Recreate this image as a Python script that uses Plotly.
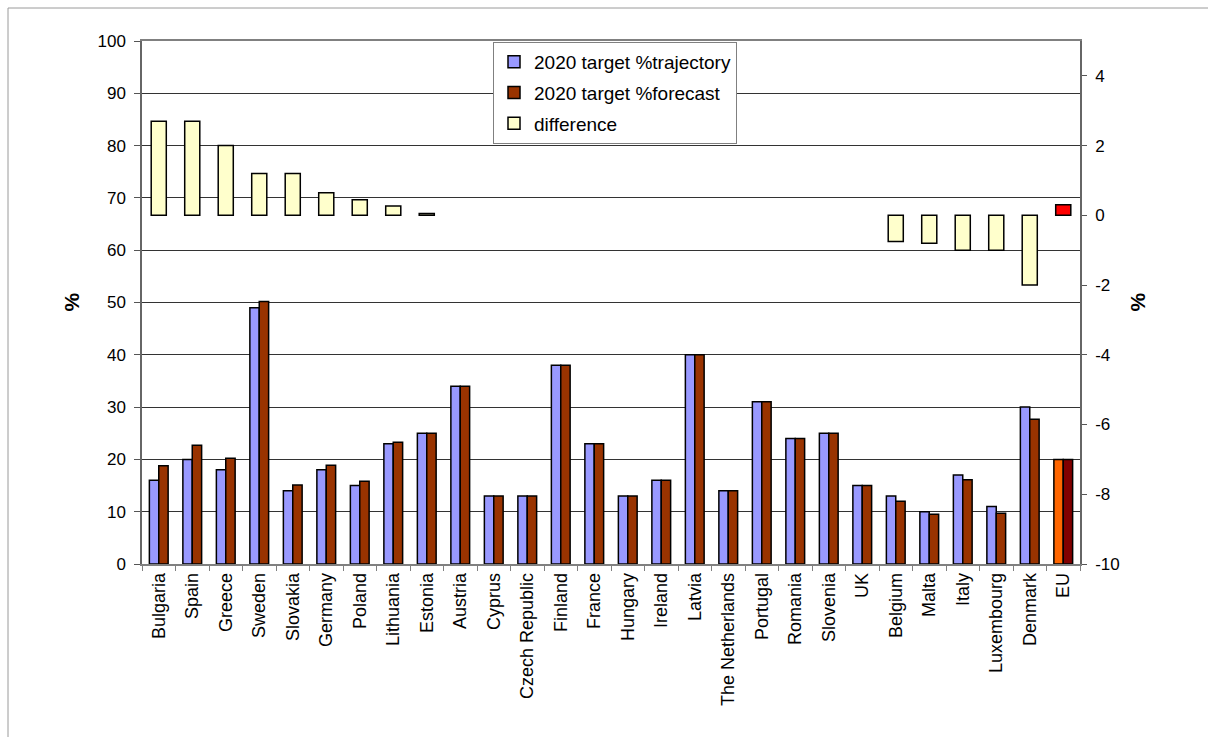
import plotly.graph_objects as go

# Member states (plus EU total) in display order
countries = [
    "Bulgaria", "Spain", "Greece", "Sweden", "Slovakia", "Germany", "Poland",
    "Lithuania", "Estonia", "Austria", "Cyprus", "Czech Republic", "Finland",
    "France", "Hungary", "Ireland", "Latvia", "The Netherlands", "Portugal",
    "Romania", "Slovenia", "UK", "Belgium", "Malta", "Italy", "Luxembourg",
    "Denmark", "EU",
]

# Renewable share targets for 2020 (%), left axis
trajectory = [16, 20, 18, 49, 14, 18, 15, 23, 25, 34, 13, 13, 38, 23, 13, 16,
              40, 14, 31, 24, 25, 15, 13, 10, 17, 11, 30, 20]
forecast = [18.8, 22.7, 20.2, 50.2, 15.1, 18.9, 15.8, 23.3, 25, 34, 13, 13, 38,
            23, 13, 16, 40, 14, 31, 24, 25, 15, 12.0, 9.5, 16.1, 9.7, 27.7, 20]

# Forecast minus trajectory (percentage points), right axis
difference = [2.7, 2.7, 2.0, 1.2, 1.2, 0.65, 0.45, 0.27, 0.05, None, None, None,
              None, None, None, None, None, None, None, None, None, None,
              -0.75, -0.8, -1.0, -1.0, -2.0, 0.3]

# Axis ticks
left_ticks = [0, 10, 20, 30, 40, 50, 60, 70, 80, 90, 100]
right_ticks = [-10, -8, -6, -4, -2, 0, 2, 4]
right_ticktext = ["-10", "-8", "-6", "-4", "-2", "0", "2", "4"]

TRAJ_COLOR = "#9999FF"
FORE_COLOR = "#993300"
DIFF_COLOR = "#FFFFCC"
EU_TRAJ = "#FF6600"
EU_FORE = "#800000"
EU_DIFF = "#FF0000"

n = len(countries)
traj_colors = [TRAJ_COLOR] * (n - 1) + [EU_TRAJ]
fore_colors = [FORE_COLOR] * (n - 1) + [EU_FORE]
diff_colors = [DIFF_COLOR] * (n - 1) + [EU_DIFF]

FONT = "Liberation Sans, Arial, sans-serif"
outline = dict(color="black", width=1.5)

fig = go.Figure()
fig.add_trace(go.Bar(
    x=countries, y=trajectory, name="2020 target %trajectory",
    marker=dict(color=traj_colors, line=outline),
    width=0.28, offset=-0.28, legendgroup="a", yaxis="y",
))
fig.add_trace(go.Bar(
    x=countries, y=forecast, name="2020 target %forecast",
    marker=dict(color=fore_colors, line=outline),
    width=0.28, offset=0.0, legendgroup="b", yaxis="y",
))
fig.add_trace(go.Bar(
    x=countries, y=difference, name="difference",
    marker=dict(color=diff_colors, line=outline),
    width=0.45, offset=-0.225, legendgroup="c", yaxis="y2",
))

W, H = 1208, 737
L, R, T, B = 142, 128, 41, 173
pw, ph = W - L - R, H - T - B

def px_x(p):
    return (p - L) / pw

def px_y(p):
    return 1 - (p - T) / ph

fig.update_layout(
    width=W, height=H,
    margin=dict(l=L, r=R, t=T, b=B, pad=0),
    paper_bgcolor="white", plot_bgcolor="white",
    font=dict(family=FONT, color="black", size=17),
    barmode="overlay",
    showlegend=True,
    legend=dict(
        x=px_x(493), y=px_y(42), xanchor="left", yanchor="top",
        bgcolor="white", bordercolor="#808080", borderwidth=1,
        font=dict(family=FONT, size=19, color="black"),
        traceorder="grouped", tracegroupgap=3,
    ),
    xaxis=dict(
        type="category", tickson="boundaries", ticks="outside", ticklen=5,
        tickcolor="#808080", tickangle=-90, showline=True, linecolor="#808080",
        linewidth=1.5, mirror=True, showgrid=False,
        tickfont=dict(family=FONT, size=18, color="black"),
        range=[-0.5, n - 0.5],
    ),
    yaxis=dict(
        range=[0, 100], tickvals=left_ticks, ticks="outside", ticklen=6,
        tickcolor="#555555", showline=True, linecolor="#666666", linewidth=1.5,
        showgrid=True, gridcolor="#333333", gridwidth=1, zeroline=False,
        tickfont=dict(family=FONT, size=17, color="black"),
        ticklabelstandoff=5,
    ),
    yaxis2=dict(
        overlaying="y", side="right", range=[-10, 5], tickvals=right_ticks,
        ticktext=right_ticktext, ticks="outside", ticklen=5,
        tickcolor="#555555", showline=True, linecolor="#666666", linewidth=1.5,
        showgrid=False, zeroline=False,
        tickfont=dict(family=FONT, size=17, color="black"),
        ticklabelstandoff=5,
    ),
    annotations=[
        dict(text="<b>%</b>", xref="paper", yref="paper", x=px_x(57), y=px_y(302),
             showarrow=False, textangle=-90, font=dict(family=FONT, size=21)),
        dict(text="<b>%</b>", xref="paper", yref="paper", x=px_x(1150), y=px_y(302),
             showarrow=False, textangle=-90, font=dict(family=FONT, size=21)),
    ],
    shapes=[
        dict(type="rect", xref="paper", yref="paper",
             x0=px_x(8), x1=px_x(1215), y0=px_y(745), y1=px_y(8),
             line=dict(color="#9a9a9a", width=1), layer="below"),
    ],
)

fig.write_html("out.html")
